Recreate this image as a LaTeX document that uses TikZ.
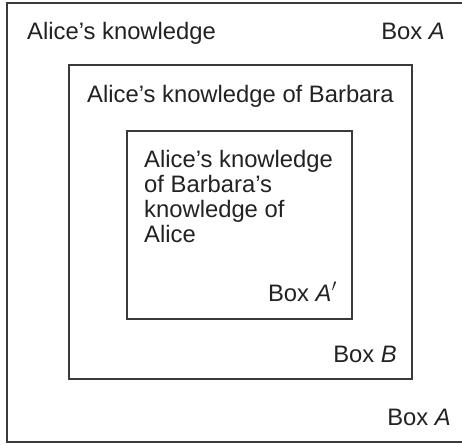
\documentclass[tikz,border=0pt]{standalone}
\usepackage{fontspec}
\setmainfont{Liberation Sans}
\usepackage{tikz}
\usetikzlibrary{positioning}
\usepackage{xcolor}
\definecolor{inkgray}{HTML}{222222}
\definecolor{framegray}{HTML}{3A3A3A}

\begin{document}
\begin{tikzpicture}[
    x=1pt, y=-1pt,
    frame/.style={
      draw=framegray, line width=1.2pt
    },
    label/.style={
      font=\fontsize{23.8}{25}\selectfont, text=inkgray,
      inner sep=0pt
    },
    boxtag/.style={
      label, anchor=base east
    },
  ]
  \useasboundingbox (0,0) rectangle (462,444);

  % =================== Box A: Alice's knowledge ===================
  \draw[frame] (7,3) rectangle (466,442);
  \node[label, anchor=base west] (alice) at (27,39) {Alice’s knowledge};
  \node[boxtag] (boxatop) at (445,39) {Box \textit{A}};
  \node[boxtag] (boxabot) at (451,425) {Box \textit{A}};

  % =================== Box B: ... of Barbara ===================
  \draw[frame] (69,65) rectangle (412,379);
  \node[label, anchor=base west] (barbara) at (87,102) {Alice’s knowledge of Barbara};
  \node[boxtag] (boxb) at (397,362) {Box \textit{B}};

  % =================== Box A': ... of Alice ===================
  \draw[frame] (127,131) rectangle (352,319);
  \node[label, anchor=north west, align=left] (nested) at (144,150)
    {Alice’s knowledge\\of Barbara’s\\knowledge of\\Alice};
  \node[boxtag] (boxaprime) at (337,301) {Box \textit{A}$'$};

\end{tikzpicture}
\end{document}
